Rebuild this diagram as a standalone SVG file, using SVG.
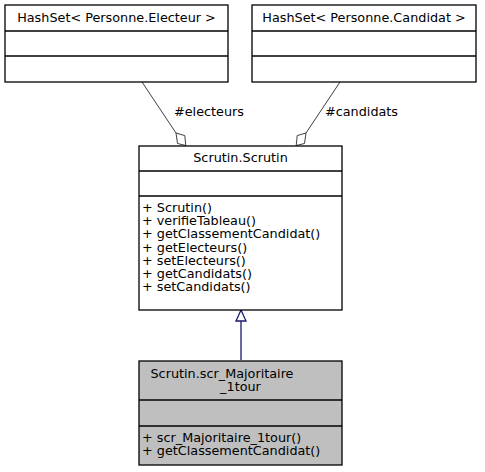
<svg xmlns="http://www.w3.org/2000/svg" width="485" height="472" viewBox="0 0 485 472">
<defs>
<style>
.box{fill:#ffffff;stroke:#000000;stroke-width:1.3}
.hl{fill:#bfbfbf;stroke:#000000;stroke-width:1.3}
.sep{stroke:#000000;stroke-width:1.3}
text{font-family:"DejaVu Sans","Liberation Sans",sans-serif;font-size:12.8px;fill:#000000}
.mid{text-anchor:middle}
.edge{fill:none;stroke:#404040;stroke-width:1}
.dia{fill:#ffffff;stroke:#404040;stroke-width:1}
.inh{fill:none;stroke:#191970;stroke-width:1.3}
.tri{fill:#ffffff;stroke:#191970;stroke-width:1.3}
</style>
</defs>
<rect width="485" height="472" fill="#ffffff"/>
<g id="connectors">
<path class="edge" d="M142,82 L176,133"/>
<polygon class="dia" points="176,133 184.8,135.6 185.8,145.5 177.5,143.5"/>
<text x="174" y="116">#electeurs</text>
<path class="edge" d="M340,82 L306,133"/>
<polygon class="dia" points="306,133 297.2,135.6 296.2,145.5 304.5,143.5"/>
<text x="325" y="116">#candidats</text>
<path class="inh" d="M241,360 L241,321"/>
<polygon class="tri" points="241,310 246,321 236,321"/>
</g>
<g id="node_electeurs">
<rect class="box" x="5" y="5" width="223" height="77"/>
<line class="sep" x1="5" y1="31" x2="228" y2="31"/>
<line class="sep" x1="5" y1="56" x2="228" y2="56"/>
<text class="mid" x="116.5" y="22">HashSet&lt; Personne.Electeur &gt;</text>
</g>
<g id="node_candidats">
<rect class="box" x="252" y="5" width="224" height="77"/>
<line class="sep" x1="252" y1="31" x2="476" y2="31"/>
<line class="sep" x1="252" y1="56" x2="476" y2="56"/>
<text class="mid" x="364" y="22">HashSet&lt; Personne.Candidat &gt;</text>
</g>
<g id="node_scrutin">
<rect class="box" x="139" y="146" width="203" height="164"/>
<line class="sep" x1="139" y1="171" x2="342" y2="171"/>
<line class="sep" x1="139" y1="196" x2="342" y2="196"/>
<text class="mid" x="240.5" y="162">Scrutin.Scrutin</text>
<text x="142" y="212">+ Scrutin()</text>
<text x="142" y="225.2">+ verifieTableau()</text>
<text x="142" y="238.4">+ getClassementCandidat()</text>
<text x="142" y="251.6">+ getElecteurs()</text>
<text x="142" y="264.8">+ setElecteurs()</text>
<text x="142" y="278">+ getCandidats()</text>
<text x="142" y="291.2">+ setCandidats()</text>
</g>
<g id="node_majoritaire">
<rect class="hl" x="139" y="361" width="203" height="104"/>
<line class="sep" x1="139" y1="400" x2="342" y2="400"/>
<line class="sep" x1="139" y1="426" x2="342" y2="426"/>
<text x="150.5" y="378">Scrutin.scr_Majoritaire</text>
<text class="mid" x="240.5" y="391">_1tour</text>
<text x="142" y="441.5">+ scr_Majoritaire_1tour()</text>
<text x="142" y="455">+ getClassementCandidat()</text>
</g>
</svg>
